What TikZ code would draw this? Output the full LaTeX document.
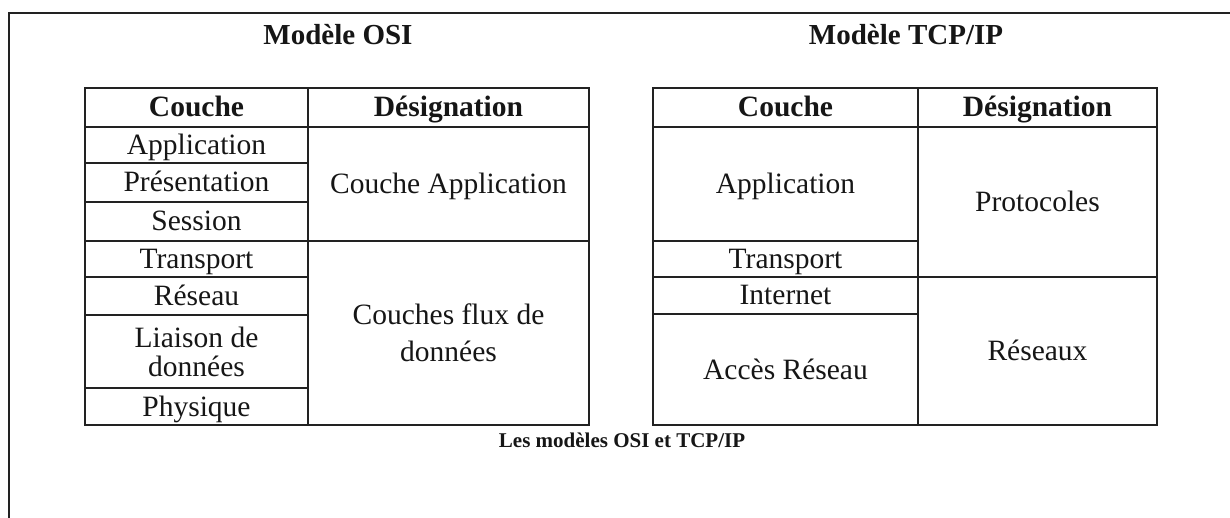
\documentclass[tikz,border=0pt]{standalone}
\usepackage{fontspec}
\setmainfont{Liberation Serif}
\definecolor{linec}{HTML}{222222}
\definecolor{inkc}{HTML}{161616}
\newcommand\cellfont{\fontsize{29.5}{29}\selectfont}
% table cell: name, x1, y1, x2, y2, options, text
\newcommand\tabcell[7]{%
  \node[cell,#6,minimum width={(#4)-(#2)},minimum height={(#5)-(#3)}]
    (#1) at ({((#2)+(#4))/2},{((#3)+(#5))/2}) {#7};}
\tikzset{
  cell/.style={draw=linec, line width=1.6pt, inner sep=0pt, outer sep=0pt,
    text=inkc, font=\cellfont, text height=25pt, text depth=6pt},
  multi/.style={text height=, text depth=, align=center},
  head/.style={font=\cellfont\bfseries},
  title/.style={text=inkc, inner sep=0pt, font=\fontsize{29}{29}\selectfont\bfseries,
    text height=19pt, text depth=0pt},
  caption/.style={text=inkc, inner sep=0pt, font=\fontsize{21}{21}\selectfont\bfseries,
    text height=14pt, text depth=0pt},
  frame/.style={draw=linec, line width=1.5pt}
}
\begin{document}
\begin{tikzpicture}[x=1pt,y=-1pt]
\useasboundingbox (0,0) rectangle (1230,518);
\fill[white] (0,0) rectangle (1230,518);

% page frame (top and left edges)
\coordinate (fb) at (9,518);
\coordinate (fc) at (9,13);
\coordinate (fr) at (1230,13);
\draw[frame] (fb) -- (fc) -- (fr);

% titles
\node[title] (tosi) at (338,35) {Modèle OSI};
\node[title] (ttcp) at (906,35) {Modèle TCP/IP};

% OSI model table
\tabcell{oh1}{85}{88}{308}{127}{head}{Couche}
\tabcell{oh2}{308}{88}{589}{127}{head}{Désignation}
\tabcell{o1}{85}{127}{308}{163}{}{Application}
\tabcell{o2}{85}{163}{308}{202}{}{Présentation}
\tabcell{o3}{85}{202}{308}{241}{}{Session}
\tabcell{o4}{85}{241}{308}{277}{}{Transport}
\tabcell{o5}{85}{277}{308}{315}{}{Réseau}
\tabcell{o6}{85}{315}{308}{388}{multi}{Liaison de\\données}
\tabcell{o7}{85}{388}{308}{425}{}{Physique}
\tabcell{od1}{308}{127}{589}{241}{}{Couche Application}
\tabcell{od2}{308}{241}{589}{425}{multi,font=\fontsize{29.5}{36.7}\selectfont}{Couches flux de\\données}

% TCP/IP model table
\tabcell{th1}{653}{88}{918}{127}{head}{Couche}
\tabcell{th2}{918}{88}{1157}{127}{head}{Désignation}
\tabcell{t1}{653}{127}{918}{241}{}{Application}
\tabcell{t2}{653}{241}{918}{277}{}{Transport}
\tabcell{t3}{653}{277}{918}{314}{}{Internet}
\tabcell{t4}{653}{314}{918}{425}{}{Accès Réseau}
\tabcell{td1}{918}{127}{1157}{277}{}{Protocoles}
\tabcell{td2}{918}{277}{1157}{425}{}{Réseaux}

% caption
\node[caption] (cap) at (622,440) {Les modèles OSI et TCP/IP};
\end{tikzpicture}
\end{document}
